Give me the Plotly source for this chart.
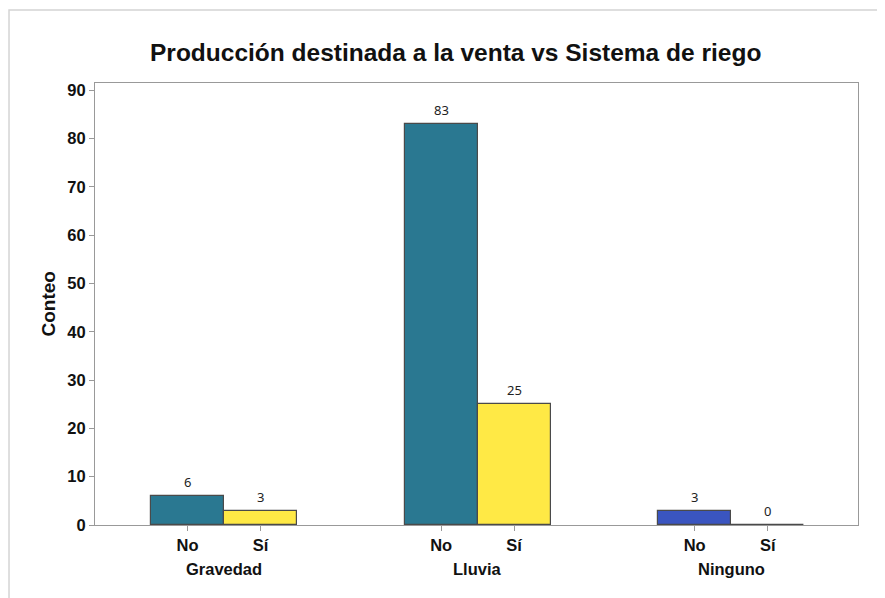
import plotly.graph_objects as go

groups = ["Gravedad", "Lluvia", "Ninguno"]
sub_labels = ["No", "Sí"]
no_counts = [6, 83, 3]
si_counts = [3, 25, 0]
no_colors = ["#2A7891", "#2A7891", "#3A55C0"]
si_colors = ["#FFE945", "#FFE945", "#FFE945"]
y_ticks = [0, 10, 20, 30, 40, 50, 60, 70, 80, 90]

bw = 0.288
gx = list(range(len(groups)))
x_no = [g - bw / 2 for g in gx]
x_si = [g + bw / 2 for g in gx]

FONT = "Liberation Sans, Arial"

fig = go.Figure()
fig.add_trace(go.Bar(
    x=x_no, y=no_counts, width=bw,
    marker=dict(color=no_colors, line=dict(color="#4a4a4a", width=1.2)),
    showlegend=False, hoverinfo="y"))
fig.add_trace(go.Bar(
    x=x_si, y=si_counts, width=bw,
    marker=dict(color=si_colors, line=dict(color="#4a4a4a", width=1.2)),
    showlegend=False, hoverinfo="y"))

tickvals = []
ticktext = []
for a, b in zip(x_no, x_si):
    tickvals += [a, b]
    ticktext += ["<b>%s</b>" % s for s in sub_labels]

annotations = []
for xs, vals in ((x_no, no_counts), (x_si, si_counts)):
    for xv, v in zip(xs, vals):
        annotations.append(dict(x=xv, y=v, xref="x", yref="y", text=str(v), showarrow=False,
                                xanchor="center", yanchor="middle", yshift=14,
                                font=dict(family="Noto Sans", size=13, color="#222")))
for g, name in zip(gx, groups):
    annotations.append(dict(x=g, y=-0.0995, xref="x", yref="paper", text="<b>%s</b>" % name,
                            showarrow=False, xanchor="center", yanchor="middle",
                            font=dict(family=FONT, size=16.5, color="#111")))
annotations.append(dict(x=-0.061, y=0.5, xref="paper", yref="paper", text="<b>Conteo</b>",
                        textangle=-90, showarrow=False, xanchor="center", yanchor="middle",
                        font=dict(family=FONT, size=19, color="#111")))
annotations.append(dict(x=0.4727, y=1.07, xref="paper", yref="paper",
                        text="<b>Producción destinada a la venta vs Sistema de riego</b>",
                        showarrow=False, xanchor="center", yanchor="middle",
                        font=dict(family=FONT, size=24.5, color="#111")))

fig.update_layout(
    width=885, height=598,
    margin=dict(l=87, r=35, t=75, b=81),
    paper_bgcolor="white", plot_bgcolor="white",
    bargap=0, barmode="overlay",
    annotations=annotations,
    shapes=[dict(type="rect", xref="paper", yref="paper", x0=-0.1127, y0=-0.3, x1=1.2, y1=1.165,
                 line=dict(color="#d4d4d4", width=1.5), fillcolor="rgba(0,0,0,0)", layer="below")],
    xaxis=dict(range=[-0.509, 2.5], tickmode="array", tickvals=tickvals, ticktext=ticktext,
               showgrid=False, zeroline=False, showline=True, linecolor="#999", linewidth=1.2,
               mirror=True, ticks="outside", ticklen=5, tickcolor="#999",
               tickfont=dict(family=FONT, size=16.5, color="#111")),
    yaxis=dict(range=[0, 91.5], tickmode="array", tickvals=y_ticks,
               ticktext=["<b>%d</b>" % v for v in y_ticks],
               showgrid=False, zeroline=False, showline=True, linecolor="#999", linewidth=1.2,
               mirror=True, ticks="outside", ticklen=5, tickcolor="#999",
               tickfont=dict(family=FONT, size=16.5, color="#111")),
)

fig.write_html("out.html")
